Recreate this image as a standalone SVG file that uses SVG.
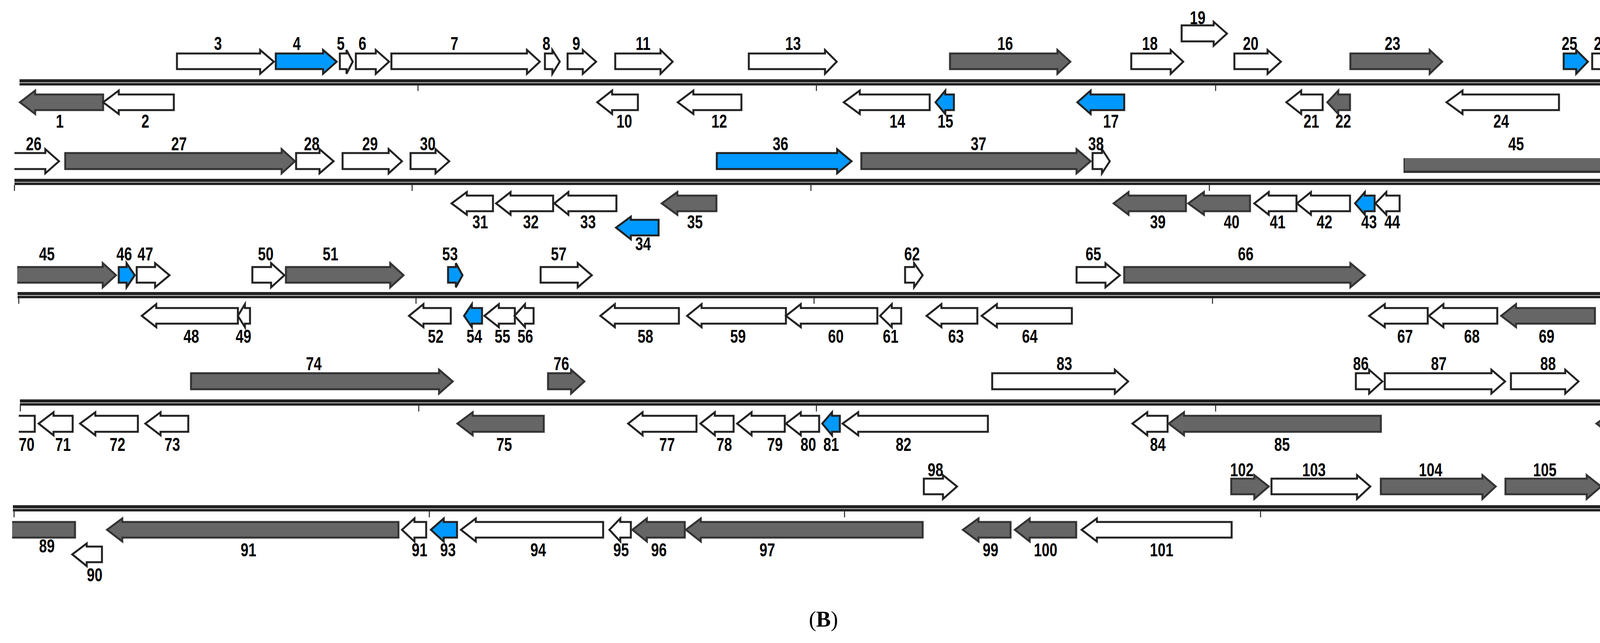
<svg xmlns="http://www.w3.org/2000/svg" width="4292" height="1647" viewBox="0 0 4292 1647">
<style>
.w{fill:#fff;stroke:#222;stroke-width:5;stroke-linejoin:miter}
.g{fill:#666;stroke:#333;stroke-width:5}
.b{fill:#0099ff;stroke:#222;stroke-width:5}
.o{fill:none;stroke:#222;stroke-width:5}
.nf{stroke:none}
.bb{fill:#222}
.gap{fill:#fff}
.tk{stroke:#222;stroke-width:2.5}
text{font-family:"Liberation Sans",Arial,sans-serif;font-weight:bold;font-size:48px;fill:#000}
.l text{text-anchor:middle}
</style>
<g id="backbones">
<rect class="bb" x="50" y="203" width="4083" height="16"/><rect class="gap" x="50" y="211" width="4083" height="1.5"/>
<rect class="bb" x="37" y="458" width="4082" height="16"/><rect class="gap" x="37" y="466" width="4082" height="1.5"/>
<rect class="bb" x="45" y="748" width="4081" height="16"/><rect class="gap" x="45" y="756" width="4081" height="1.5"/>
<rect class="bb" x="51" y="1023" width="4082" height="16"/><rect class="gap" x="51" y="1031" width="4082" height="1.5"/>
<rect class="bb" x="33" y="1294" width="4084" height="16"/><rect class="gap" x="33" y="1302" width="4084" height="1.5"/>
<path class="tk" d="M1070 219V233M2090 219V233M3112 219V233M37 474V489M1055 474V489M2076 474V489M3096 474V489M48 763V778M1065 763V778M2084 763V778M3104 763V778M52 1039V1054M1072 1039V1054M2090 1039V1054M3112 1039V1054M36 1310V1325M1099 1310V1325M2162 1310V1325M3227 1310V1325"/>
</g>
<g id="row1">
<path id="g3" class="w" d="M453 137H666V128L701 158L666 189V177H453Z"/>
<path id="g4" class="b" d="M706 137H827V128L862 158L827 189V177H706Z"/>
<path id="g5" class="w" d="M870 137H887V128L903 158L887 189V177H870Z"/>
<path id="g6" class="w" d="M911 137H962V128L996 158L962 189V177H911Z"/>
<path id="g7" class="w" d="M1002 137H1349V128L1382 158L1349 189V177H1002Z"/>
<path id="g8" class="w" d="M1395 137H1414V128L1433 158L1414 189V177H1395Z"/>
<path id="g9" class="w" d="M1453 137H1492V128L1526 158L1492 189V177H1453Z"/>
<path id="g11" class="w" d="M1575 137H1691V128L1722 158L1691 189V177H1575Z"/>
<path id="g13" class="w" d="M1917 137H2112V128L2142 158L2112 189V177H1917Z"/>
<path id="g16" class="g" d="M2432 137H2707V128L2740 158L2707 189V177H2432Z"/>
<path id="g18" class="w" d="M2896 137H2997V128L3029 158L2997 189V177H2896Z"/>
<path id="g19" class="w" d="M3025 65H3107V56L3141 86L3107 117V106H3025Z"/>
<path id="g20" class="w" d="M3160 137H3245V128L3279 158L3245 189V177H3160Z"/>
<path id="g23" class="g" d="M3457 137H3660V128L3692 158L3660 189V177H3457Z"/>
<path id="g25" class="b" d="M4003 137H4035V128L4065 158L4035 189V177H4003Z"/>
<path id="g26a" class="o" d="M4130 137H4076V177H4130"/>
<path id="g1" class="g" d="M51 262L90 232V242H264V282H90V292Z"/>
<path id="g2" class="w" d="M264 262L304 232V242H445V282H304V292Z"/>
<path id="g10" class="w" d="M1529 262L1567 232V242H1633V282H1567V292Z"/>
<path id="g12" class="w" d="M1735 262L1775 232V242H1898V282H1775V292Z"/>
<path id="g14" class="w" d="M2160 262L2201 232V242H2380V282H2201V292Z"/>
<path id="g15" class="b" d="M2395 262L2420 232V242H2442V282H2420V292Z"/>
<path id="g17" class="b" d="M2758 262L2792 232V242H2878V282H2792V292Z"/>
<path id="g21" class="w" d="M3293 262L3331 232V242H3386V282H3331V292Z"/>
<path id="g22" class="g" d="M3398 262L3426 232V242H3456V282H3426V292Z"/>
<path id="g24" class="w" d="M3703 262L3744 232V242H3991V282H3744V292Z"/>
</g>
<g id="row2">
<path class="w nf" d="M37 392H116V382L151 413L116 444V433H37Z"/><path id="g26b" class="o" d="M37 392H116V382L151 413L116 444V433H37"/>
<path id="g27" class="g" d="M167 392H721V382L755 413L721 444V433H167Z"/>
<path id="g28" class="w" d="M758 392H818V382L854 413L818 444V433H758Z"/>
<path id="g29" class="w" d="M877 392H995V382L1029 413L995 444V433H877Z"/>
<path id="g30" class="w" d="M1051 392H1115V382L1150 413L1115 444V433H1051Z"/>
<path id="g36" class="b" d="M1835 392H2143V382L2180 413L2143 444V433H1835Z"/>
<path id="g37" class="g" d="M2205 392H2756V382L2792 413L2756 444V433H2205Z"/>
<path id="g38" class="w" d="M2797 392H2821V382L2841 413L2821 444V433H2797Z"/>
<g id="g45a"><rect x="3593" y="405" width="526" height="38" fill="#666"/><rect x="3593" y="437" width="526" height="6" fill="#333"/><rect x="3593" y="405" width="3" height="38" fill="#333"/></g>
<path id="g31" class="w" d="M1156 521L1195 492V501H1262V541H1195V550Z"/>
<path id="g32" class="w" d="M1270 521L1307 492V501H1416V541H1307V550Z"/>
<path id="g33" class="w" d="M1419 521L1455 492V501H1578V541H1455V550Z"/>
<path id="g35" class="g" d="M1694 521L1734 492V501H1834V541H1734V550Z"/>
<path id="g34" class="b" d="M1577 583L1615 555V563H1686V603H1615V613Z"/>
<path id="g39" class="g" d="M2851 521L2889 492V501H3036V541H2889V550Z"/>
<path id="g40" class="g" d="M3042 521L3082 492V501H3200V541H3082V550Z"/>
<path id="g41" class="w" d="M3211 521L3248 492V501H3319V541H3248V550Z"/>
<path id="g42" class="w" d="M3320 521L3356 492V501H3456V541H3356V550Z"/>
<path id="g43" class="b" d="M3469 521L3494 492V501H3519V541H3494V550Z"/>
<path id="g44" class="w" d="M3521 521L3549 492V501H3583V541H3549V550Z"/>
</g>
<g id="row3">
<path class="g nf" d="M44 684H263V674L297 705L263 736V724H44Z"/><path id="g45b" class="o" style="stroke:#333" d="M44 684H263V674L297 705L263 736V724H44"/>
<path id="g46" class="b" d="M304 684H324V674L345 705L324 736V724H304Z"/>
<path id="g47" class="w" d="M350 684H397V674L434 705L397 736V724H350Z"/>
<path id="g50" class="w" d="M646 684H694V674L728 705L694 736V724H646Z"/>
<path id="g51" class="g" d="M732 684H999V674L1033 705L999 736V724H732Z"/>
<path id="g53" class="b" d="M1147 684H1167V674L1184 705L1167 736V724H1147Z"/>
<path id="g57" class="w" d="M1384 684H1479V674L1515 705L1479 736V724H1384Z"/>
<path id="g62" class="w" d="M2317 684H2340V674L2362 705L2340 736V724H2317Z"/>
<path id="g65" class="w" d="M2756 684H2830V674L2867 705L2830 736V724H2756Z"/>
<path id="g66" class="g" d="M2878 684H3457V674L3494 705L3457 736V724H2878Z"/>
<path id="g48" class="w" d="M363 809L400 779V789H609V829H400V838Z"/>
<path id="g49" class="w" d="M609 809L627 779V789H640V829H627V838Z"/>
<path id="g52" class="w" d="M1047 809L1084 779V789H1154V829H1084V838Z"/>
<path id="g54" class="b" d="M1188 809L1208 779V789H1234V829H1208V838Z"/>
<path id="g55" class="w" d="M1240 809L1277 779V789H1318V829H1277V838Z"/>
<path id="g56" class="w" d="M1317 809L1344 779V789H1366V829H1344V838Z"/>
<path id="g58" class="w" d="M1537 809L1574 779V789H1738V829H1574V838Z"/>
<path id="g59" class="w" d="M1759 809L1796 779V789H2012V829H1796V838Z"/>
<path id="g60" class="w" d="M2012 809L2050 779V789H2246V829H2050V838Z"/>
<path id="g61" class="w" d="M2253 809L2283 779V789H2307V829H2283V838Z"/>
<path id="g63" class="w" d="M2372 809L2410 779V789H2502V829H2410V838Z"/>
<path id="g64" class="w" d="M2513 809L2552 779V789H2744V829H2552V838Z"/>
<path id="g67" class="w" d="M3505 809L3545 779V789H3655V829H3545V838Z"/>
<path id="g68" class="w" d="M3658 809L3695 779V789H3833V829H3695V838Z"/>
<path id="g69" class="g" d="M3843 809L3881 779V789H4083V829H3881V838Z"/>
<path id="g70a" class="o" d="M4141 779L4103 809L4141 838"/>
</g>
<g id="row4">
<path id="g74" class="g" d="M489 956H1124V947L1159 977L1124 1008V997H489Z"/>
<path id="g76" class="g" d="M1403 956H1462V947L1496 977L1462 1008V997H1403Z"/>
<path id="g83" class="w" d="M2540 956H2854V947L2888 977L2854 1008V997H2540Z"/>
<path id="g86" class="w" d="M3471 956H3505V947L3539 977L3505 1008V997H3471Z"/>
<path id="g87" class="w" d="M3545 956H3818V947L3853 977L3818 1008V997H3545Z"/>
<path id="g88" class="w" d="M3868 956H4007V947L4041 977L4007 1008V997H3868Z"/>
<path id="g70b" class="o" d="M48 1065H89V1106H48"/>
<path id="g71" class="w" d="M99 1085L137 1056V1065H186V1106H137V1115Z"/>
<path id="g72" class="w" d="M205 1085L244 1056V1065H353V1106H244V1115Z"/>
<path id="g73" class="w" d="M372 1085L411 1056V1065H482V1106H411V1115Z"/>
<path id="g75" class="g" d="M1171 1085L1210 1056V1065H1392V1106H1210V1115Z"/>
<path id="g77" class="w" d="M1608 1085L1645 1056V1065H1783V1106H1645V1115Z"/>
<path id="g78" class="w" d="M1793 1085L1830 1056V1065H1878V1106H1830V1115Z"/>
<path id="g79" class="w" d="M1887 1085L1924 1056V1065H2009V1106H1924V1115Z"/>
<path id="g80" class="w" d="M2012 1085L2050 1056V1065H2097V1106H2050V1115Z"/>
<path id="g81" class="b" d="M2105 1085L2130 1056V1065H2150V1106H2130V1115Z"/>
<path id="g82" class="w" d="M2157 1085L2197 1056V1065H2529V1106H2197V1115Z"/>
<path id="g84" class="w" d="M2899 1085L2937 1056V1065H2989V1106H2937V1115Z"/>
<path id="g85" class="g" d="M2992 1085L3031 1056V1065H3535V1106H3031V1115Z"/>
<path class="g nf" d="M4133 1065H4126V1056L4087 1085L4126 1115V1106H4133Z"/><path id="g89a" class="o" style="stroke:#333" d="M4133 1065H4126V1056L4087 1085L4126 1115V1106H4133"/>
</g>
<g id="row5">
<path id="g98" class="w" d="M2365 1226H2414V1217L2450 1246L2414 1278V1266H2365Z"/>
<path id="g102" class="g" d="M3152 1226H3211V1217L3248 1246L3211 1278V1266H3152Z"/>
<path id="g103" class="w" d="M3255 1226H3474V1217L3508 1246L3474 1278V1266H3255Z"/>
<path id="g104" class="g" d="M3535 1226H3795V1217L3829 1246L3795 1278V1266H3535Z"/>
<path id="g105" class="g" d="M3854 1226H4062V1217L4099 1246L4062 1278V1266H3854Z"/>
<rect class="g nf" x="31" y="1337" width="161" height="40"/><path id="g89b" class="o" style="stroke:#333" d="M31 1337H192V1377H31"/>
<path id="g90" class="w" d="M185 1420L222 1392V1400H261V1440H222V1450Z"/>
<path id="g91a" class="g" d="M274 1357L313 1328V1337H1020V1377H313V1387Z"/>
<path id="g91b" class="w" d="M1029 1357L1061 1328V1337H1091V1377H1061V1387Z"/>
<path id="g93" class="b" d="M1103 1357L1136 1328V1337H1170V1377H1136V1387Z"/>
<path id="g94" class="w" d="M1180 1357L1218 1328V1337H1544V1377H1218V1387Z"/>
<path id="g95" class="w" d="M1560 1357L1588 1328V1337H1615V1377H1588V1387Z"/>
<path id="g96" class="g" d="M1619 1357L1656 1328V1337H1753V1377H1656V1387Z"/>
<path id="g97" class="g" d="M1756 1357L1794 1328V1337H2362V1377H1794V1387Z"/>
<path id="g99" class="g" d="M2465 1357L2505 1328V1337H2587V1377H2505V1387Z"/>
<path id="g100" class="g" d="M2598 1357L2636 1328V1337H2755V1377H2636V1387Z"/>
<path id="g101" class="w" d="M2769 1357L2808 1328V1337H3153V1377H2808V1387Z"/>
</g>
<g id="labels" class="l" transform="scale(0.75 1)">
<text x="744" y="128">3</text><text x="1013" y="128">4</text><text x="1163" y="128">5</text><text x="1237" y="128">6</text><text x="1551" y="128">7</text><text x="1865" y="128">8</text><text x="1967" y="128">9</text><text x="2195" y="128">11</text><text x="2707" y="128">13</text><text x="3431" y="128">16</text><text x="3925" y="128">18</text><text x="4088" y="62">19</text><text x="4269" y="128">20</text><text x="4753" y="128">23</text><text x="5357" y="128">25</text><text x="5467" y="128">26</text>
<text x="204" y="327">1</text><text x="496" y="327">2</text><text x="2131" y="327">10</text><text x="2455" y="327">12</text><text x="3063" y="327">14</text><text x="3227" y="327">15</text><text x="3792" y="327">17</text><text x="4476" y="327">21</text><text x="4585" y="327">22</text><text x="5124" y="327">24</text>
<text x="115" y="385">26</text><text x="611" y="385">27</text><text x="1064" y="385">28</text><text x="1263" y="385">29</text><text x="1460" y="385">30</text><text x="2664" y="385">36</text><text x="3340" y="385">37</text><text x="3741" y="385">38</text><text x="5175" y="385">45</text>
<text x="1639" y="585">31</text><text x="1812" y="585">32</text><text x="2007" y="585">33</text><text x="2372" y="585">35</text><text x="2195" y="641">34</text><text x="3952" y="585">39</text><text x="4204" y="585">40</text><text x="4361" y="585">41</text><text x="4521" y="585">42</text><text x="4673" y="585">43</text><text x="4752" y="585">44</text>
<text x="160" y="667">45</text><text x="424" y="667">46</text><text x="496" y="667">47</text><text x="907" y="667">50</text><text x="1128" y="667">51</text><text x="1536" y="667">53</text><text x="1907" y="667">57</text><text x="3113" y="667">62</text><text x="3732" y="667">65</text><text x="4252" y="667">66</text>
<text x="653" y="878">48</text><text x="831" y="878">49</text><text x="1487" y="878">52</text><text x="1619" y="878">54</text><text x="1715" y="878">55</text><text x="1793" y="878">56</text><text x="2203" y="878">58</text><text x="2519" y="878">59</text><text x="2853" y="878">60</text><text x="3040" y="878">61</text><text x="3263" y="878">63</text><text x="3515" y="878">64</text><text x="4796" y="878">67</text><text x="5024" y="878">68</text><text x="5279" y="878">69</text><text x="5511" y="878">70</text>
<text x="1071" y="948">74</text><text x="1916" y="948">76</text><text x="3633" y="948">83</text><text x="4645" y="948">86</text><text x="4911" y="948">87</text><text x="5284" y="948">88</text>
<text x="91" y="1155">70</text><text x="215" y="1155">71</text><text x="401" y="1155">72</text><text x="588" y="1155">73</text><text x="1721" y="1155">75</text><text x="2277" y="1155">77</text><text x="2472" y="1155">78</text><text x="2645" y="1155">79</text><text x="2759" y="1155">80</text><text x="2837" y="1155">81</text><text x="3084" y="1155">82</text><text x="3952" y="1155">84</text><text x="4376" y="1155">85</text><text x="5501" y="1155">89</text>
<text x="3193" y="1220">98</text><text x="4239" y="1220">102</text><text x="4485" y="1220">103</text><text x="4883" y="1220">104</text><text x="5273" y="1220">105</text>
<text x="160" y="1415">89</text><text x="323" y="1489">90</text><text x="848" y="1425">91</text><text x="1432" y="1425">91</text><text x="1529" y="1425">93</text><text x="1837" y="1425">94</text><text x="2120" y="1425">95</text><text x="2249" y="1425">96</text><text x="2619" y="1425">97</text><text x="3381" y="1425">99</text><text x="3569" y="1425">100</text><text x="3965" y="1425">101</text>
</g>
<g id="scale" transform="scale(0.75 1)">
<text x="5552" y="190">20</text><text x="5552" y="250">kb</text>
<text x="5547" y="438">40</text><text x="5547" y="500">kb</text>
<text x="5565" y="713">60</text><text x="5565" y="773">kb</text>
<text x="5580" y="993">80</text><text x="5580" y="1053">kb</text>
<text x="5520" y="1283">99.171</text><text x="5576" y="1343">kb</text>
</g>
<text x="2108" y="1605" text-anchor="middle" style="font-family:'Liberation Serif','Times New Roman',serif;font-weight:normal;font-size:56px">(<tspan font-weight="bold">B</tspan>)</text>
</svg>
